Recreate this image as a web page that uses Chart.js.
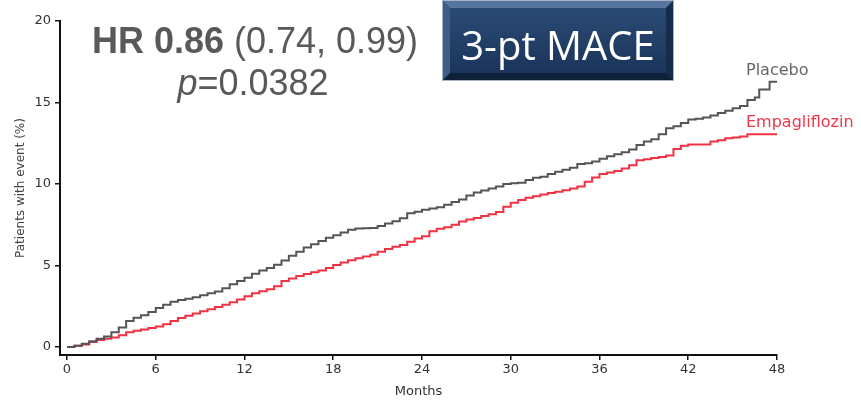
<!DOCTYPE html>
<html>
<head>
<meta charset="utf-8">
<script src="https://cdn.jsdelivr.net/npm/chart.js@4/dist/chart.umd.min.js"></script>
<style>
  html, body { margin: 0; padding: 0; background: #fff; }
  #wrap { width: 861px; height: 402px; position: relative; }
</style>
</head>
<body>
<div id="wrap"><canvas id="kmChart"></canvas></div>
<script>
// (months, cumulative % of patients with event)
const placeboMonths = [0, 0.5, 1, 1.5, 2, 2.5, 3, 3.5, 4, 4.5, 5, 5.5, 6, 6.5, 7, 7.5, 8, 8.5, 9, 9.5,
  10, 10.5, 11, 11.5, 12, 12.5, 13, 13.5, 14, 14.5, 15, 15.5, 16, 16.5, 17, 17.5, 18, 18.5, 19, 19.5,
  20, 20.5, 21, 21.5, 22, 22.5, 23, 23.5, 24, 24.5, 25, 25.5, 26, 26.5, 27, 27.5, 28, 28.5, 29, 29.5,
  30, 30.5, 31, 31.5, 32, 32.5, 33, 33.5, 34, 34.5, 35, 35.5, 36, 36.5, 37, 37.5, 38, 38.5, 39, 39.5,
  40, 40.5, 41, 41.5, 42, 42.5, 43, 43.5, 44, 44.5, 45, 45.5, 46, 46.5, 46.8, 47.5, 48];
const placeboPct = [0, 0.08, 0.2, 0.35, 0.5, 0.65, 0.9, 1.2, 1.6, 1.8, 1.95, 2.15, 2.4, 2.6, 2.78, 2.88, 2.96, 3.05, 3.18, 3.3,
  3.4, 3.6, 3.85, 4.05, 4.25, 4.5, 4.7, 4.85, 5.05, 5.3, 5.6, 5.85, 6.1, 6.3, 6.5, 6.7, 6.85, 7.03, 7.2, 7.27,
  7.28, 7.3, 7.42, 7.58, 7.72, 7.9, 8.2, 8.3, 8.42, 8.5, 8.57, 8.72, 8.9, 9.05, 9.3, 9.48, 9.6, 9.72, 9.85, 10.0,
  10.05, 10.08, 10.25, 10.38, 10.45, 10.62, 10.75, 10.88, 11.0, 11.22, 11.27, 11.38, 11.55, 11.7, 11.82, 11.95, 12.12, 12.4, 12.6, 12.75,
  13.05, 13.42, 13.55, 13.75, 13.95, 14.0, 14.08, 14.2, 14.35, 14.5, 14.65, 14.78, 15.15, 15.3, 15.8, 16.28, 16.3];

const empaMonths = [0, 0.5, 1, 1.5, 2, 2.5, 3, 3.5, 4, 4.5, 5, 5.5, 6, 6.5, 7, 7.5, 8, 8.5, 9, 9.5,
  10, 10.5, 11, 11.5, 12, 12.5, 13, 13.5, 14, 14.5, 15, 15.5, 16, 16.5, 17, 17.5, 18, 18.5, 19, 19.5,
  20, 20.5, 21, 21.5, 22, 22.5, 23, 23.5, 24, 24.5, 25, 25.5, 26, 26.5, 27, 27.5, 28, 28.5, 29, 29.5,
  30, 30.5, 31, 31.5, 32, 32.5, 33, 33.5, 34, 34.5, 35, 35.5, 36, 36.5, 37, 37.5, 38, 38.5, 39, 39.5,
  40, 40.5, 41, 41.5, 42, 42.5, 43, 43.5, 44, 44.5, 45, 45.5, 46, 48];
const empaPct = [0, 0.07, 0.16, 0.3, 0.43, 0.5, 0.59, 0.72, 0.9, 1.0, 1.08, 1.17, 1.26, 1.4, 1.6, 1.78, 1.92, 2.06, 2.2, 2.32,
  2.45, 2.6, 2.75, 2.92, 3.12, 3.3, 3.42, 3.55, 3.72, 4.05, 4.2, 4.35, 4.48, 4.58, 4.7, 4.85, 5.03, 5.18, 5.32, 5.45,
  5.55, 5.66, 5.85, 6.02, 6.15, 6.26, 6.45, 6.65, 6.8, 7.1, 7.25, 7.35, 7.5, 7.7, 7.82, 7.92, 8.04, 8.15, 8.28, 8.6,
  8.85, 9.02, 9.15, 9.25, 9.35, 9.45, 9.52, 9.62, 9.72, 9.84, 10.14, 10.4, 10.62, 10.7, 10.8, 10.95, 11.15, 11.45, 11.52, 11.6,
  11.65, 11.75, 12.15, 12.35, 12.43, 12.43, 12.43, 12.6, 12.68, 12.8, 12.85, 12.92, 13.05, 13.05];

const xTicks = [0, 6, 12, 18, 24, 30, 36, 42, 48];
const yTicks = [0, 5, 10, 15, 20];

const toPoints = (xs, ys) => xs.map((x, i) => ({ x: x, y: ys[i] }));

const axisFont = { family: "DejaVu Sans", size: 13 };

// text annotations + the bevelled "3-pt MACE" box
const annotations = {
  id: 'annotations',
  afterDraw(chart) {
    const ctx = chart.ctx;
    ctx.save();

    // HR text
    ctx.fillStyle = '#595959';
    ctx.textBaseline = 'alphabetic';
    ctx.textAlign = 'left';
    const boldPart = 'HR 0.86 ';
    const normPart = '(0.74, 0.99)';
    ctx.font = 'bold 36px "Liberation Sans"';
    const wBold = ctx.measureText(boldPart).width;
    ctx.font = '36px "Liberation Sans"';
    const wNorm = ctx.measureText(normPart).width;
    let x0 = 255 - (wBold + wNorm) / 2;
    ctx.font = 'bold 36px "Liberation Sans"';
    ctx.fillText(boldPart, x0, 53);
    ctx.font = '36px "Liberation Sans"';
    ctx.fillText(normPart, x0 + wBold, 53);

    ctx.font = 'italic 36px "Liberation Sans"';
    const wP = ctx.measureText('p').width;
    ctx.font = '36px "Liberation Sans"';
    const wRest = ctx.measureText('=0.0382').width;
    x0 = 253 - (wP + wRest) / 2;
    ctx.font = 'italic 36px "Liberation Sans"';
    ctx.fillText('p', x0, 95);
    ctx.font = '36px "Liberation Sans"';
    ctx.fillText('=0.0382', x0 + wP, 95);

    // bevelled box
    const bx = 443, by = 1, bw = 230, bh = 79, bev = 7;
    ctx.fillStyle = '#1f3b63';
    ctx.fillRect(bx, by, bw, bh);
    const quad = (pts, color) => {
      ctx.beginPath();
      ctx.moveTo(pts[0][0], pts[0][1]);
      for (let i = 1; i < pts.length; i++) ctx.lineTo(pts[i][0], pts[i][1]);
      ctx.closePath();
      ctx.fillStyle = color;
      ctx.fill();
    };
    quad([[bx, by], [bx + bw, by], [bx + bw - bev, by + bev], [bx + bev, by + bev]], '#56769f');
    quad([[bx, by], [bx + bev, by + bev], [bx + bev, by + bh - bev], [bx, by + bh]], '#3d5d88');
    quad([[bx + bw, by], [bx + bw, by + bh], [bx + bw - bev, by + bh - bev], [bx + bw - bev, by + bev]], '#162c4b');
    quad([[bx, by + bh], [bx + bev, by + bh - bev], [bx + bw - bev, by + bh - bev], [bx + bw, by + bh]], '#0f2039');
    const grad = ctx.createLinearGradient(0, by + bev, 0, by + bh - bev);
    grad.addColorStop(0, '#2a4a74');
    grad.addColorStop(1, '#1b355a');
    ctx.fillStyle = grad;
    ctx.fillRect(bx + bev, by + bev, bw - 2 * bev, bh - 2 * bev);
    ctx.strokeStyle = '#a9b4c2';
    ctx.lineWidth = 1;
    ctx.strokeRect(bx - 0.5, by - 0.5, bw + 1, bh + 1);

    ctx.fillStyle = '#ffffff';
    ctx.textAlign = 'center';
    ctx.font = '40px "Open Sans"';
    ctx.fillText('3-pt MACE', bx + bw / 2, 60);

    // curve labels
    ctx.textAlign = 'left';
    ctx.font = '16px "DejaVu Sans"';
    ctx.fillStyle = '#666666';
    ctx.fillText('Placebo', 746, 75);
    ctx.fillStyle = '#f0364a';
    ctx.fillText('Empagliflozin', 746, 127);

    ctx.restore();
  }
};

new Chart(document.querySelector('#kmChart'), {
  type: 'line',
  data: {
    datasets: [{
      label: 'Placebo',
      data: toPoints(placeboMonths, placeboPct),
      stepped: true,
      borderColor: 'rgb(85, 85, 85)',
      borderWidth: 2,
      pointRadius: 0,
      fill: false
    }, {
      label: 'Empagliflozin',
      data: toPoints(empaMonths, empaPct),
      stepped: true,
      borderColor: 'rgb(240, 50, 66)',
      borderWidth: 2,
      pointRadius: 0,
      fill: false
    }]
  },
  options: {
    responsive: true,
    maintainAspectRatio: false,
    animation: false,
    layout: { padding: { top: 21, right: 84, left: 0, bottom: 0 } },
    plugins: {
      legend: { display: false },
      tooltip: { enabled: false }
    },
    scales: {
      x: {
        type: 'linear',
        min: -0.473,
        max: 48,
        afterBuildTicks: s => { s.ticks = xTicks.map(v => ({ value: v })); },
        afterFit: s => { s.height = 47; },
        ticks: { color: '#333', font: axisFont, padding: 2, maxRotation: 0 },
        grid: { drawOnChartArea: false, drawTicks: true, tickLength: 5, color: '#111', lineWidth: 1.5 },
        border: { display: true, color: '#111', width: 2 },
        title: { display: true, text: 'Months', color: '#333', font: axisFont, padding: { top: 0, bottom: 3 } }
      },
      y: {
        min: -0.49,
        max: 20,
        afterBuildTicks: s => { s.ticks = yTicks.map(v => ({ value: v })); },
        afterFit: s => { s.width = 60; },
        ticks: { color: '#333', font: axisFont, padding: 4 },
        grid: { drawOnChartArea: false, drawTicks: true, tickLength: 5, color: '#111', lineWidth: 1.5 },
        border: { display: true, color: '#111', width: 2 },
        title: { display: true, text: 'Patients with event (%)', color: '#444', font: { family: "DejaVu Sans", size: 12 }, padding: { top: 14, bottom: 0 } }
      }
    }
  },
  plugins: [annotations]
});
</script>
</body>
</html>
